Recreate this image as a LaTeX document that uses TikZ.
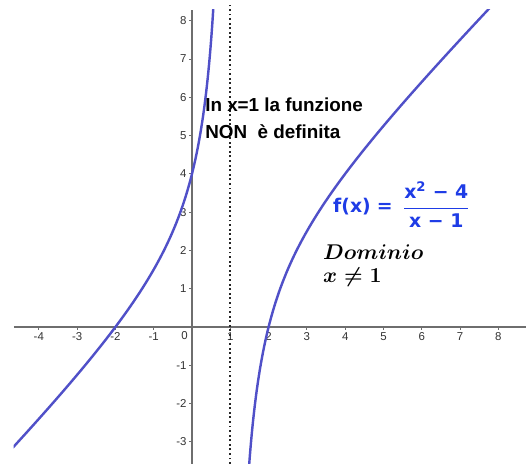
\documentclass[tikz,border=0pt]{standalone}
\usepackage{amsmath}
\usepackage{graphicx}
\usepackage{fontspec}
\setmainfont{Liberation Sans}
\newfontfamily\fmlfont{DejaVu Sans}
\usetikzlibrary{calc}

\definecolor{curva}{RGB}{80,80,200}
\definecolor{formula}{RGB}{30,60,230}
\definecolor{asse}{RGB}{110,110,110}

\newcommand{\fmltxt}[1]{\mbox{\fmlfont\bfseries #1}}
\newcommand{\dommath}[1]{\scalebox{1.1}{$#1$}}

\tikzset{
  ticklab/.style={font=\fontsize{8.5}{9}\selectfont, text=black!80, inner sep=1.5pt},
  nota/.style={font=\fontsize{14}{16}\selectfont\bfseries, anchor=west, inner sep=0pt},
  eqnota/.style={font=\fontsize{14.4}{17}\selectfont\mathversion{bold}, anchor=west, inner sep=0pt},
  grafico/.style={curva, line width=1.8pt, samples=200, smooth}
}

\begin{document}
\begin{tikzpicture}[x=1cm, y=1cm]
\useasboundingbox (-5.013,-3.577) rectangle (8.721,8.538);
% assi
\draw[asse, line width=0.8pt] (-4.65,0) -- (8.721,0);
\draw[asse, line width=0.8pt] (0,-3.577) -- (0,8.28);
\foreach \i in {-4,-3,-2,-1,1,2,3,4,5,6,7,8}
  \draw[asse, line width=0.6pt] (\i,0) -- (\i,-0.08) node[ticklab, below] {\i};
\foreach \j in {-3,-2,-1,1,2,3,4,5,6,7,8}
  \draw[asse, line width=0.6pt] (0,\j) -- (-0.08,\j) node[ticklab, left] {\j};
\node[ticklab, below left] (zero) at (-0.05,-0.05) {0};
% asintoto verticale
\draw[black!85, line width=1.4pt, dotted] (1,-3.577) -- (1,8.4);
% grafico di f
\begin{scope}
\clip (-4.66,-3.577) rectangle (8.721,8.28);
\draw[grafico, domain=-4.7:0.57] plot (\x, {(\x*\x-4)/(\x-1)});
\draw[grafico, domain=1.48:7.8] plot (\x, {(\x*\x-4)/(\x-1)});
\end{scope}
% testi
\node[nota] (riga1) at (0.34,5.80) {In x=1 la funzione};
\node[nota] (riga2) at (0.34,5.09) {NON\ \ è definita};
\node[anchor=west, text=formula, font=\fontsize{14}{16}\selectfont\mathversion{bold}, inner sep=0pt] (fx) at (3.68,3.2)
  {$\fmltxt{f(x)}\;\fmltxt{=}\;\,\dfrac{\fmltxt{x\textsuperscript{2} − 4}}{\fmltxt{x − 1}}$};
\node[eqnota] (dom) at (3.42,1.96) {\dommath{Dominio}};
\node[eqnota] (cond) at (3.42,1.31) {\dommath{x \neq 1}};
\end{tikzpicture}
\end{document}
